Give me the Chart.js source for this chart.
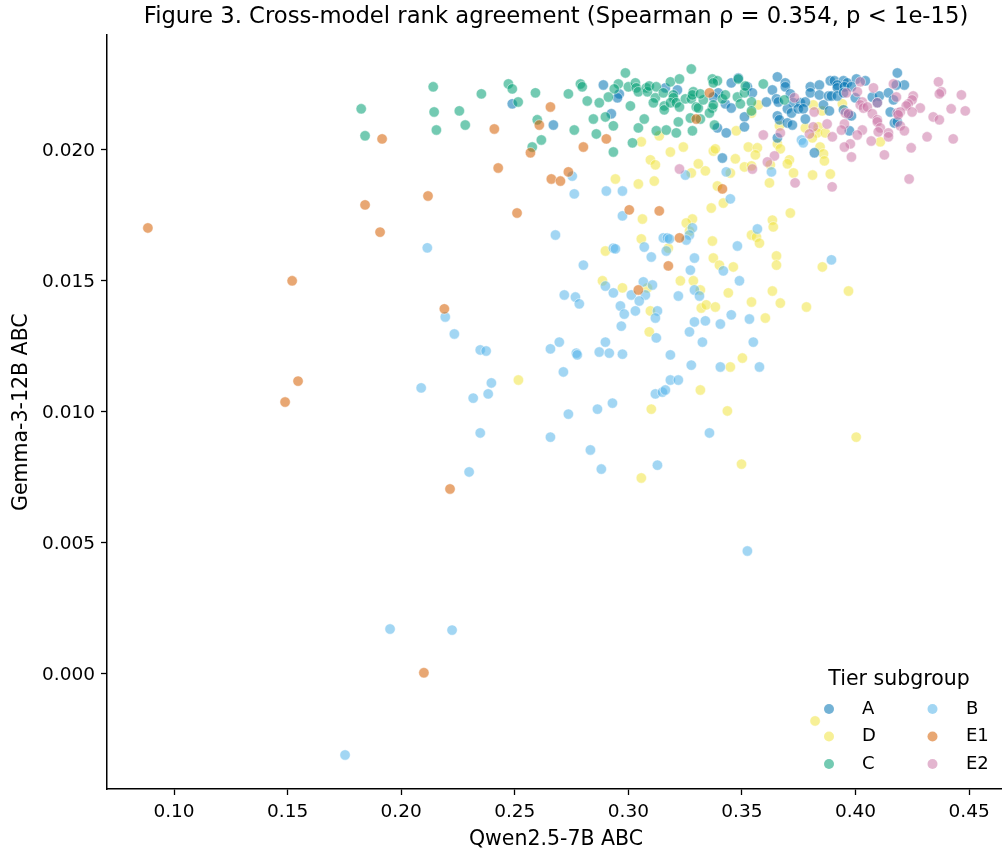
<!DOCTYPE html>
<html>
<head>
<meta charset="utf-8">
<title>Figure 3</title>
<script src="https://cdn.jsdelivr.net/npm/chart.js@4"></script>
<style>
html, body { margin: 0; background: #fff; overflow: hidden; }
canvas { display: block; }
</style>
</head>
<body>
<!-- a few px wider than the window: the axes run past the right edge of the picture -->
<canvas id="rankChart" width="1006" height="852"></canvas>
<script>
const xTicks = [0.10, 0.15, 0.20, 0.25, 0.30, 0.35, 0.40, 0.45];
const yTicks = [0.000, 0.005, 0.010, 0.015, 0.020];

const aX = [.2489,.2890,.2960,.2952,.2925,.2670,.3163,.3216,.3396,.3374,.3427,.3453,.3392,.3431,.3511,.3511,.3453,.3484,.3524,.3546,.3608,.3414,.3656,.3691,.3691,.3634,.3652,.3660,.3713,.3726,.3757,.3779,.3700,.3718,.3748,.3770,.3656,.3665,.3700,.3722,.3779,.3801,.3801,.3841,.3841,.3859,.3885,.3889,.3907,.3947,.3964,.4004,.4043,.3920,.3920,.3951,.3982,.3881,.3894,.3920,.3947,.3999,.3947,.3969,.3982,.3973,.4074,.4105,.4096,.4145,.4167,.4153,.4184,.4215,.4180,.4171,.4184,.3656,.3819];
const aY = [.02176,.02248,.02214,.02199,.02138,.02095,.02237,.02229,.02218,.02202,.02176,.0216,.02084,.02065,.02126,.02088,.02256,.02275,.02241,.02218,.02183,.01969,.02279,.02256,.02241,.02229,.02195,.02183,.02214,.0218,.0218,.02183,.02157,.02141,.02157,.02157,.0213,.02115,.02103,.02095,.02118,.02241,.02218,.02248,.0221,.02172,.02149,.02264,.02264,.02264,.02256,.02271,.02264,.02248,.02237,.02241,.02241,.02206,.02206,.02206,.02218,.02199,.02153,.02134,.0213,.02073,.02202,.02206,.0218,.02218,.02191,.02145,.02294,.02248,.02248,.02103,.02107,.02046,.01989];

const bX = [.2753,.2762,.2903,.2974,.3251,.3431,.3630,.3449,.2974,.2679,.3282,.3269,.3255,.3154,.3172,.3181,.2934,.2943,.3070,.3167,.3101,.3291,.3568,.3480,.2802,.3273,.3418,.3894,.3489,.3066,.2899,.3106,.2718,.2767,.2784,.2934,.3013,.3075,.3048,.3220,.3291,.3313,.2965,.2982,.3031,.3128,.3119,.2969,.3291,.3339,.3405,.3453,.3533,.3269,.3123,.3326,.3550,.2899,.2696,.2115,.2194,.2234,.2088,.2348,.2374,.2397,.2383,.2317,.2348,.2299,.2657,.2771,.2775,.2714,.2872,.2916,.2974,.2864,.2930,.2736,.2657,.2833,.2881,.3119,.3150,.3163,.3185,.3220,.3277,.3405,.3577,.3357,.3128,.1951,.2224,.1753,.3524,.3185,.3762,.3770];
const bY = [.0190,.01832,.01843,.01843,.01904,.01916,.01916,.01813,.01748,.01675,.01702,.01675,.01656,.01664,.01664,.0166,.01625,.01622,.01629,.01614,.01591,.01587,.01698,.01633,.0156,.01541,.01538,.0158,.015,.01496,.0148,.01484,.01446,.01438,.01412,.01454,.01446,.01446,.01423,.01442,.01465,.01442,.01404,.01373,.01385,.01385,.01358,.01327,.01343,.01347,.01335,.0137,.01354,.01305,.01282,.01266,.01266,.01266,.01266,.01626,.01362,.01297,.01091,.01236,.01232,.0111,.01068,.01052,.00919,.0077,.0124,.01224,.01217,.01152,.01228,.01224,.0122,.0101,.01033,.00991,.00903,.00854,.00781,.01068,.01075,.01083,.01121,.01121,.01178,.01171,.01171,.00919,.00796,.0017,.00166,-.00311,.00468,.01217,.02038,.02027];

const cX = [.2141,.1824,.1841,.2145,.2256,.2282,.2155,.2353,.2472,.2489,.2515,.2591,.2599,.2617,.2577,.2987,.2789,.2797,.2736,.2819,.2872,.2956,.2938,.2912,.3009,.3000,.3031,.3035,.3044,.3079,.3084,.3092,.3123,.3119,.3110,.3154,.3158,.3158,.3185,.3225,.3198,.3198,.3185,.3211,.3225,.3277,.3251,.3277,.3286,.3282,.3299,.3308,.3330,.3317,.3370,.3392,.3374,.3414,.3427,.3370,.3357,.3374,.3484,.3480,.3511,.3515,.3493,.3542,.3542,.3594,.2846,.2899,.2934,.2762,.2859,.2934,.3018,.3044,.3070,.3123,.3167,.3211,.3220,.3273,.3317,.3282,.3379,.3687];
const cY = [.02241,.02157,.02054,.02145,.02149,.02095,.02076,.02214,.02252,.02233,.02183,.02218,.02115,.02038,.02011,.02294,.02252,.02241,.02214,.02187,.0218,.02252,.02233,.02202,.02168,.02241,.02256,.02237,.02222,.02237,.02222,.02244,.02241,.02199,.0218,.02218,.02168,.02153,.0226,.02271,.0221,.02199,.0218,.0218,.02164,.02309,.02195,.02195,.02222,.0221,.02164,.0216,.02191,.02214,.02271,.02264,.02256,.02195,.0221,.0216,.02141,.02172,.02271,.02202,.02218,.02244,.02176,.02183,.02149,.02252,.02118,.02126,.02092,.02076,.02061,.01992,.02027,.02084,.02118,.02073,.02076,.02065,.02107,.02122,.02118,.02073,.02095,.02191];

const dX = [.2943,.3044,.3114,.3277,.3339,.3449,.3392,.3621,.3727,.3811,.3889,.3365,.3418,.3713,.3062,.3282,.3255,.3634,.3638,.3057,.3370,.3542,.3564,.3577,.2899,.3176,.3269,.3374,.3401,.3462,.3652,.3652,.3854,.2886,.2974,.3084,.3229,.3286,.3317,.3440,.3634,.3542,.3669,.3784,.3321,.3343,.3383,.3097,.3603,.3092,.2516,.3317,.3449,.3502,.3436,.3101,.3057,.3498,.4003,.3822,.3969,.3057,.3136,.3185,.3242,.3097,.3119,.3308,.3374,.3383,.3475,.3528,.3568,.3559,.3471,.3511,.3542,.3572,.3542,.3942,.3814,.3853,.3836,.3779,.3831,.3867,.3810,.3665,.3656,.3669,.3844,.3859,.3863,.3709,.3700,.3625,.4109];
const dY = [.01889,.0187,.01881,.01912,.0192,.01912,.01862,.01874,.01912,.01904,.01908,.01778,.01797,.01759,.01736,.01736,.01721,.01732,.01706,.0166,.01652,.01675,.01667,.01644,.01614,.01625,.0169,.01587,.0156,.01553,.01595,.0156,.01553,.015,.01473,.01473,.015,.015,.01465,.01454,.01461,.01419,.01415,.014,.01396,.01408,.014,.01385,.01358,.01305,.01121,.01083,.01171,.01205,.01003,.0101,.00747,.008,.00903,-.00181,.01461,.02031,.02054,.01992,.02011,.01962,.01943,.01947,.01996,.02004,.02073,.02011,.02008,.01981,.01966,.01935,.01939,.02172,.02141,.02176,.02172,.02149,.02088,.02084,.02065,.02065,.02046,.02092,.02023,.02004,.02011,.01985,.01958,.01962,.01947,.01943,.02031];

const e1X = [.0885,.1520,.1546,.1489,.2215,.2100,.1841,.1907,.1916,.2118,.2190,.2427,.2410,.2510,.2569,.2608,.2657,.2661,.2701,.2736,.2802,.2903,.3004,.3136,.3225,.3176,.3044,.3414,.3299,.3357];
const e1Y = [.01702,.0150,.01117,.01037,.00705,.00003,.0179,.01686,.02042,.01824,.01393,.01931,.0208,.01759,.01989,.02095,.02164,.01889,.01881,.01916,.02011,.02042,.01771,.01767,.01664,.01557,.01465,.01851,.02118,.02218];

const e2X = [.4079,.4167,.4365,.4378,.4369,.4466,.4021,.3731,.3960,.4008,.4254,.4180,.4249,.4232,.4096,.4030,.4021,.4035,.4052,.4223,.4285,.4421,.4483,.3818,.3955,.3969,.4074,.4184,.4197,.4188,.4249,.4342,.4369,.4096,.4096,.3875,.3814,.3951,.4030,.3938,.4109,.4197,.4215,.4100,.4145,.4145,.4008,.3797,.3898,.3669,.3594,.4315,.4430,.4069,.3977,.3951,.4245,.4127,.3982,.3643,.3612,.3546,.3225,.3734,.3897,.4236];
const e2Y = [.02237,.02252,.0226,.02222,.02214,.0221,.0226,.02199,.02218,.02222,.02206,.02202,.02191,.02176,.0218,.02183,.02172,.0216,.02164,.02168,.0216,.02157,.02149,.02145,.02141,.02138,.02138,.02141,.02145,.02134,.02145,.02126,.02115,.02115,.02107,.02099,.02088,.02099,.02076,.02076,.02084,.02092,.02073,.02069,.02065,.0205,.02057,.02061,.0205,.02065,.02057,.0205,.02042,.02034,.02023,.02011,.02008,.01981,.01973,.01977,.01954,.01927,.01927,.01874,.01859,.01889];

const pts = (xs, ys) => xs.map((x, i) => ({ x: x, y: ys[i] }));
const white = "rgba(255,255,255,0.6)";

// first dataset ends up on top
const datasets = [
  { label: "E1", data: pts(e1X, e1Y), backgroundColor: "rgba(213,94,0,0.55)" },
  { label: "E2", data: pts(e2X, e2Y), backgroundColor: "rgba(204,121,167,0.55)" },
  { label: "C", data: pts(cX, cY), backgroundColor: "rgba(0,158,115,0.55)" },
  { label: "A", data: pts(aX, aY), backgroundColor: "rgba(0,114,178,0.55)" },
  { label: "B", data: pts(bX, bY), backgroundColor: "rgba(86,180,233,0.55)" },
  { label: "D", data: pts(dX, dY), backgroundColor: "rgba(240,228,66,0.55)" }
];
datasets.forEach(d => {
  d.pointRadius = 5.2;
  d.pointHoverRadius = 5.2;
  d.borderColor = white;
  d.borderWidth = 0.8;
});

const legendCols = [["A", "D", "C"], ["B", "E1", "E2"]];

const tierLegend = {
  id: "tierLegend",
  afterDraw(chart) {
    const ctx = chart.ctx;
    ctx.save();
    ctx.fillStyle = "#000";
    ctx.textBaseline = "middle";
    ctx.font = "20.5px 'DejaVu Sans'";
    ctx.textAlign = "center";
    ctx.fillText("Tier subgroup", 899, 680);
    ctx.font = "18px 'DejaVu Sans'";
    ctx.textAlign = "left";
    legendCols.forEach((col, c) => {
      col.forEach((name, r) => {
        const y = 709 + r * 27.5;
        const ds = datasets.find(d => d.label === name);
        ctx.beginPath();
        ctx.arc(829 + c * 103.5, y, 5, 0, Math.PI * 2);
        ctx.fillStyle = ds.backgroundColor;
        ctx.fill();
        ctx.fillStyle = "#000";
        ctx.fillText(name, 862 + c * 104, y);
      });
    });
    ctx.restore();
  }
};

new Chart("rankChart", {
  type: "scatter",
  data: { datasets: datasets },
  plugins: [tierLegend],
  options: {
    responsive: false,
    animation: false,
    layout: { autoPadding: false, padding: { right: 1 } },
    plugins: {
      legend: { display: false },
      tooltip: { enabled: false },
      title: {
        display: true,
        fullSize: false,
        text: "Figure 3. Cross-model rank agreement (Spearman ρ = 0.354, p < 1e-15)",
        color: "#000",
        font: { family: "DejaVu Sans", size: 22.7, weight: "normal" },
        padding: { top: 3, bottom: 5 }
      }
    },
    scales: {
      x: {
        type: "linear",
        min: 0.0705,
        max: 0.4658,
        afterFit(s) { s.height = 63; s.paddingLeft = 0; s.paddingRight = 0; },
        afterBuildTicks(s) { s.ticks = xTicks.map(v => ({ value: v })); },
        grid: { drawOnChartArea: false, tickLength: 6, tickColor: "#000", tickWidth: 1.3 },
        border: { color: "#000", width: 1.5 },
        ticks: {
          color: "#000",
          maxRotation: 0,
          padding: 6,
          font: { family: "DejaVu Sans", size: 18.5 },
          callback: v => v.toFixed(2)
        },
        title: {
          display: true,
          text: "Qwen2.5-7B ABC",
          color: "#000",
          padding: { top: 3, bottom: 0 },
          font: { family: "DejaVu Sans", size: 20.5 }
        }
      },
      y: {
        type: "linear",
        min: -0.00441,
        max: 0.02438,
        afterFit(s) { s.width = 107; s.paddingTop = 0; s.paddingBottom = 0; },
        afterBuildTicks(s) { s.ticks = yTicks.map(v => ({ value: v })); },
        grid: { drawOnChartArea: false, tickLength: 6, tickColor: "#000", tickWidth: 1.3 },
        border: { color: "#000", width: 1.5 },
        ticks: {
          color: "#000",
          padding: 6,
          labelOffset: 1.5,
          font: { family: "DejaVu Sans", size: 18.5 },
          callback: v => v.toFixed(3)
        },
        title: {
          display: true,
          text: "Gemma-3-12B ABC",
          color: "#000",
          padding: { top: 9, bottom: 6 },
          font: { family: "DejaVu Sans", size: 20.5 }
        }
      }
    }
  }
});
</script>
</body>
</html>
